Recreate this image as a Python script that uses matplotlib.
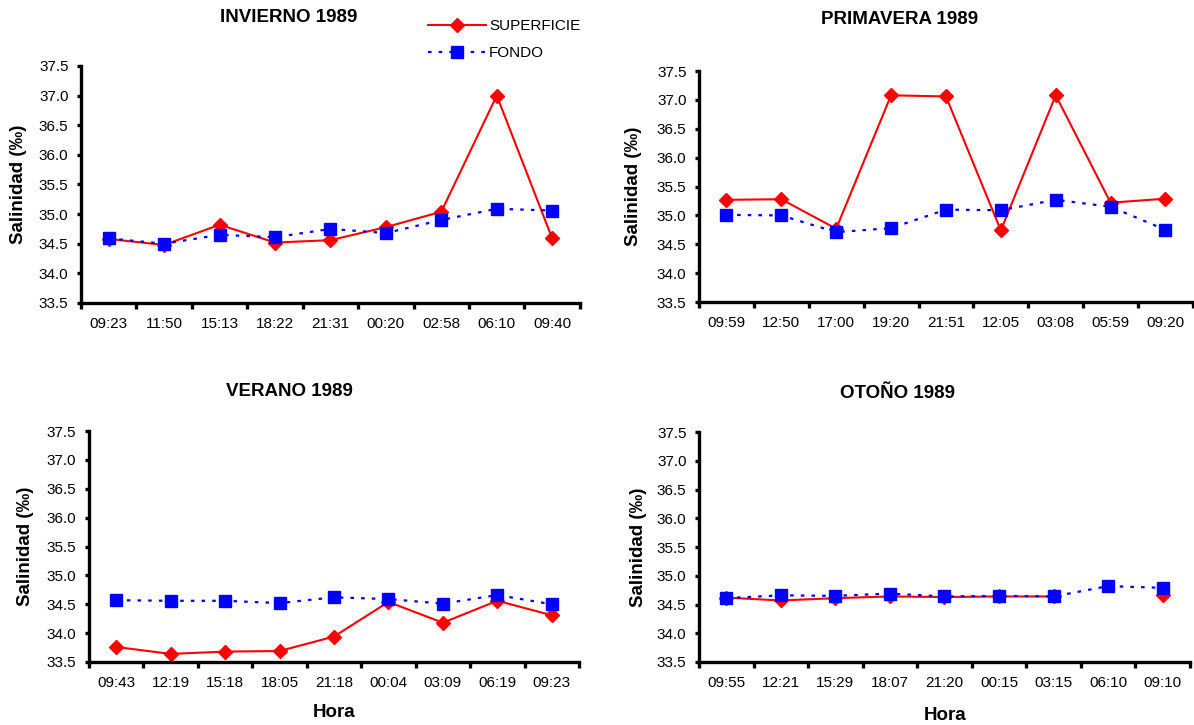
import numpy as np
import matplotlib
matplotlib.use('Agg')
import matplotlib.pyplot as plt
from matplotlib.ticker import FixedLocator, MultipleLocator, FormatStrFormatter

plt.rcParams['font.family'] = ['Liberation Sans', 'DejaVu Sans']

# salinidad (‰) por campaña, superficie y fondo
invierno_horas = ['09:23', '11:50', '15:13', '18:22', '21:31', '00:20', '02:58', '06:10', '09:40']
invierno_sup = [34.58, 34.48, 34.82, 34.52, 34.56, 34.78, 35.04, 37.00, 34.59]
invierno_fon = [34.59, 34.50, 34.65, 34.61, 34.75, 34.68, 34.90, 35.09, 35.06]

primavera_horas = ['09:59', '12:50', '17:00', '19:20', '21:51', '12:05', '03:08', '05:59', '09:20']
primavera_sup = [35.27, 35.28, 34.77, 37.08, 37.06, 34.74, 37.08, 35.22, 35.29]
primavera_fon = [35.01, 35.00, 34.71, 34.78, 35.10, 35.09, 35.27, 35.15, 34.75]

verano_horas = ['09:43', '12:19', '15:18', '18:05', '21:18', '00:04', '03:09', '06:19', '09:23']
verano_sup = [33.76, 33.64, 33.68, 33.69, 33.94, 34.54, 34.18, 34.56, 34.31]
verano_fon = [34.57, 34.56, 34.56, 34.52, 34.62, 34.59, 34.51, 34.66, 34.50]

otono_horas = ['09:55', '12:21', '15:29', '18:07', '21:20', '00:15', '03:15', '06:10', '09:10']
otono_sup = [34.62, 34.57, 34.61, 34.64, 34.63, 34.64, 34.64, np.nan, 34.67]
otono_fon = [34.61, 34.66, 34.65, 34.69, 34.64, 34.65, 34.64, 34.82, 34.79]


def draw_panel(ax, horas, sup, fon, show_xlabel):
    x = np.arange(len(horas))
    ax.plot(x, sup, color='#FF0000', lw=1.5, marker='D', ms=7,
            label='SUPERFICIE', clip_on=False)
    ax.plot(x, fon, color='#0000FF', lw=1.6, ls=(0, (1.6, 3.2)), marker='s',
            ms=8, label='FONDO', clip_on=False)
    ax.set_xlim(-0.5, len(horas) - 0.5)
    ax.set_ylim(33.5, 37.5)
    ax.yaxis.set_major_locator(MultipleLocator(0.5))
    ax.yaxis.set_major_formatter(FormatStrFormatter('%.1f'))
    # estilo excel: marcas entre categorias, etiquetas centradas
    ax.xaxis.set_major_locator(FixedLocator(np.arange(-0.5, len(horas), 1.0)))
    ax.xaxis.set_major_formatter(plt.NullFormatter())
    ax.xaxis.set_minor_locator(FixedLocator(x))
    ax.set_xticklabels(horas, minor=True)
    ax.tick_params(axis='x', which='minor', length=0, pad=10, labelsize=11)
    ax.tick_params(axis='x', which='major', length=4, width=2.4)
    ax.tick_params(axis='y', length=3, width=2.4, pad=6, labelsize=11)
    for side in ['top', 'right']:
        ax.spines[side].set_visible(False)
    for side in ['left', 'bottom']:
        ax.spines[side].set_linewidth(2.4)
    ax.set_ylabel('Salinidad (‰)', fontsize=13.5, fontweight='bold')
    if show_xlabel:
        ax.set_xlabel('Hora', fontsize=13.5, fontweight='bold')


fig = plt.figure(figsize=(11.94, 7.25), dpi=100)

ax1 = fig.add_axes([0.0678, 0.5821, 0.4179, 0.3269])
ax2 = fig.add_axes([0.5854, 0.5834, 0.4137, 0.3186])
ax3 = fig.add_axes([0.0745, 0.0869, 0.4104, 0.3186])
ax4 = fig.add_axes([0.5854, 0.0869, 0.4112, 0.3172])

draw_panel(ax1, invierno_horas, invierno_sup, invierno_fon, False)
draw_panel(ax2, primavera_horas, primavera_sup, primavera_fon, False)
draw_panel(ax3, verano_horas, verano_sup, verano_fon, True)
draw_panel(ax4, otono_horas, otono_sup, otono_fon, True)

ax1.yaxis.set_label_coords(-0.108, 0.5)
ax2.yaxis.set_label_coords(-0.115, 0.5)
ax3.yaxis.set_label_coords(-0.112, 0.5)
ax4.yaxis.set_label_coords(-0.106, 0.5)
ax3.xaxis.set_label_coords(0.5, -0.182)
ax4.xaxis.set_label_coords(0.501, -0.196)

titulos = [('INVIERNO 1989', 289, 18), ('PRIMAVERA 1989', 900, 20),
           ('VERANO 1989', 289, 392), ('OTOÑO 1989', 898, 393)]
for texto, px, py in titulos:
    fig.text(px / 1194, 1 - py / 725, texto, ha='center', va='center',
             fontsize=13.5, fontweight='bold')

handles, labels = ax1.get_legend_handles_labels()
fig.legend(handles, labels, loc='upper left',
           bbox_to_anchor=(428 / 1194, 1 - 19 / 725), frameon=False,
           fontsize=11, handlelength=3.8, handletextpad=0.2,
           labelspacing=0.85, borderpad=0, borderaxespad=0)

fig.savefig('out.png', dpi=100)
